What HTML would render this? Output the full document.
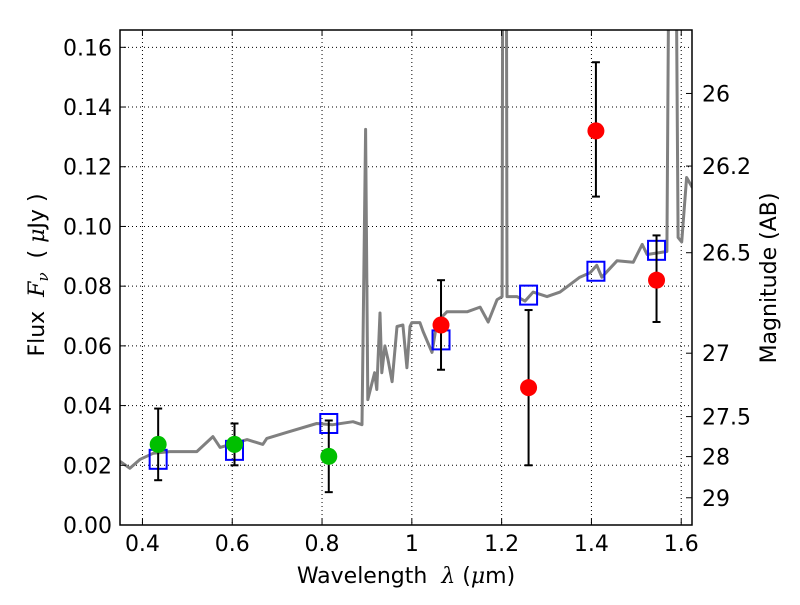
<!DOCTYPE html>
<html><head><meta charset="utf-8"><style>
body{margin:0;background:#fff;}
svg text{font-family:"DejaVu Sans","Liberation Sans",sans-serif;fill:#000;}
</style></head><body>
<svg id="chart" width="800" height="600" viewBox="0 0 800 600" xmlns="http://www.w3.org/2000/svg">
<g id="grid"></g>
<g id="plot"></g>
<g id="axes"></g>
</svg>
<script>
const specLam=[0.35,0.372,0.395,0.424,0.461,0.521,0.557,0.573,0.633,0.668,0.677,0.721,0.788,0.824,0.869,0.889,0.897,0.902,0.917,0.922,0.929,0.933,0.940,0.947,0.956,0.967,0.980,0.989,0.996,1.0,1.018,1.025,1.045,1.056,1.078,1.123,1.152,1.170,1.190,1.201,1.203,1.210,1.212,1.234,1.252,1.270,1.301,1.330,1.374,1.397,1.412,1.423,1.457,1.493,1.513,1.524,1.568,1.575,1.586,1.593,1.601,1.612,1.625];
const specFlux=[0.0213,0.019,0.022,0.024,0.0246,0.0246,0.0296,0.026,0.0286,0.027,0.029,0.031,0.034,0.0336,0.0346,0.0336,0.1325,0.042,0.051,0.0454,0.071,0.051,0.060,0.0554,0.048,0.0665,0.067,0.0527,0.0665,0.0678,0.0678,0.0648,0.0578,0.068,0.0714,0.0714,0.073,0.068,0.0755,0.0765,0.25,0.25,0.0765,0.0765,0.075,0.078,0.0765,0.078,0.083,0.0845,0.087,0.083,0.0885,0.088,0.094,0.0906,0.0916,0.25,0.25,0.0963,0.0948,0.1164,0.113];
const greenLam=[0.435,0.605,0.815];
const greenFlux=[0.027,0.027,0.023];
const greenLo=[0.015,0.020,0.011];
const greenHi=[0.039,0.034,0.035];
const redLam=[1.065,1.26,1.41,1.545];
const redFlux=[0.067,0.046,0.132,0.082];
const redLo=[0.052,0.020,0.110,0.068];
const redHi=[0.082,0.072,0.155,0.097];
const modelLam=[0.435,0.605,0.815,1.065,1.26,1.41,1.545];
const modelFlux=[0.022,0.025,0.034,0.062,0.077,0.085,0.092];
const xTicks=[0.4,0.6,0.8,1.0,1.2,1.4,1.6];
const xTickLabels=["0.4","0.6","0.8","1","1.2","1.4","1.6"];
const yTicks=[0,0.02,0.04,0.06,0.08,0.10,0.12,0.14,0.16];
const yTickLabels=["0.00","0.02","0.04","0.06","0.08","0.10","0.12","0.14","0.16"];
const magTicks=[26,26.2,26.5,27,27.5,28,29];
const magLabels=["26","26.2","26.5","27","27.5","28","29"];

const L=120,R=692,T=30,B=525;
const xmin=0.35,xmax=1.624,ymin=0,ymax=0.1658;
const X=v=>L+(v-xmin)/(xmax-xmin)*(R-L);
const Y=v=>B-(v-ymin)/(ymax-ymin)*(B-T);
const NS="http://www.w3.org/2000/svg";
function mk(tag,attrs,parent,text){const e=document.createElementNS(NS,tag);for(const k in attrs)e.setAttribute(k,attrs[k]);if(text!==undefined)e.textContent=text;parent.appendChild(e);return e;}
const grid=document.getElementById('grid'),plot=document.getElementById('plot'),axes=document.getElementById('axes');
mk('clipPath',{id:'clip'},plot);
mk('rect',{x:L,y:T,width:R-L,height:B-T},document.getElementById('clip'));
plot.setAttribute('clip-path','url(#clip)');
xTicks.forEach((v,i)=>{
 const l=mk('line',{x1:X(v),x2:X(v),y1:T,y2:B,stroke:'#000','stroke-width':1,'stroke-dasharray':'1,3'},grid);
 
 
 mk('line',{x1:X(v),x2:X(v),y1:B,y2:B-6,stroke:'#000'},axes);
 mk('line',{x1:X(v),x2:X(v),y1:T,y2:T+6,stroke:'#000'},axes);
 const t=mk('text',{x:X(v),y:B+26,'text-anchor':'middle','font-size':22},axes,xTickLabels[i]);
 
 
});
yTicks.forEach((v,i)=>{
 if(v>0){const l=mk('line',{x1:L,x2:R,y1:Y(v),y2:Y(v),stroke:'#000','stroke-width':1,'stroke-dasharray':'1,3'},grid);
 
 }
 mk('line',{x1:L,x2:L+6,y1:Y(v),y2:Y(v),stroke:'#000'},axes);
 const t=mk('text',{x:L-8,y:Y(v)+8,'text-anchor':'end','font-size':22},axes,yTickLabels[i]);
 
 
});
magTicks.forEach((m,i)=>{
 const f=Math.pow(10,(23.9-m)/2.5);
 mk('line',{x1:R,x2:R-6,y1:Y(f),y2:Y(f),stroke:'#000'},axes);
 const t=mk('text',{x:R+10,y:Y(f)+8,'font-size':22},axes,magLabels[i]);
 
 
});
let d=specLam.map((v,i)=>(i?'L':'M')+X(v).toFixed(1)+','+Y(specFlux[i]).toFixed(1)).join('');
const sp=mk('path',{d:d,fill:'none',stroke:'#808080','stroke-width':3,'stroke-linejoin':'round'},plot);


function errs(lam,lo,hi){lam.forEach((v,i)=>{
 const g=mk('g',{},plot);
 
 
 mk('line',{x1:X(v),x2:X(v),y1:Y(lo[i]),y2:Y(hi[i]),stroke:'#000','stroke-width':2},g);
 mk('line',{x1:X(v)-4,x2:X(v)+4,y1:Y(lo[i]),y2:Y(lo[i]),stroke:'#000','stroke-width':2},g);
 mk('line',{x1:X(v)-4,x2:X(v)+4,y1:Y(hi[i]),y2:Y(hi[i]),stroke:'#000','stroke-width':2},g);
});}
modelLam.forEach((v,i)=>{
 const r=mk('rect',{x:X(v)-8.5,y:Y(modelFlux[i])-9.5,width:17,height:19,fill:'none',stroke:'#0000ff','stroke-width':2},plot);
 
 
});
errs(greenLam,greenLo,greenHi);
errs(redLam,redLo,redHi);
greenLam.forEach((v,i)=>{
 const c=mk('circle',{cx:X(v),cy:Y(greenFlux[i]),r:8.5,fill:'#00bf00'},plot);
 
 
});
redLam.forEach((v,i)=>{
 const c=mk('circle',{cx:X(v),cy:Y(redFlux[i]),r:8.5,fill:'#ff0000'},plot);
 
 
});
const fr=mk('rect',{x:L,y:T,width:R-L,height:B-T,fill:'none',stroke:'#000','stroke-width':1.5},axes);


const xl=mk('text',{x:406,y:583,'text-anchor':'middle','font-size':22},axes);
xl.innerHTML='Wavelength\u00a0\u00a0<tspan font-style="italic" font-family="DejaVu Serif, serif">λ</tspan> (<tspan font-style="italic" font-family="DejaVu Serif, serif">μ</tspan>m)';


const yl=mk('text',{x:0,y:0,'text-anchor':'middle','font-size':22,transform:'translate(44,275) rotate(-90)'},axes);
yl.innerHTML='Flux\u00a0\u00a0<tspan font-style="italic" font-family="DejaVu Serif, serif">F</tspan><tspan font-style="italic" font-family="DejaVu Serif, serif" font-size="15" dy="4">ν</tspan><tspan dy="-4">\u00a0\u00a0(\u00a0</tspan><tspan font-style="italic" font-family="DejaVu Serif, serif">μ</tspan>Jy\u00a0)';


const rl=mk('text',{x:0,y:0,'text-anchor':'middle','font-size':22,transform:'translate(776,278) rotate(-90)'},axes,'Magnitude (AB)');


</script>
</body></html>
